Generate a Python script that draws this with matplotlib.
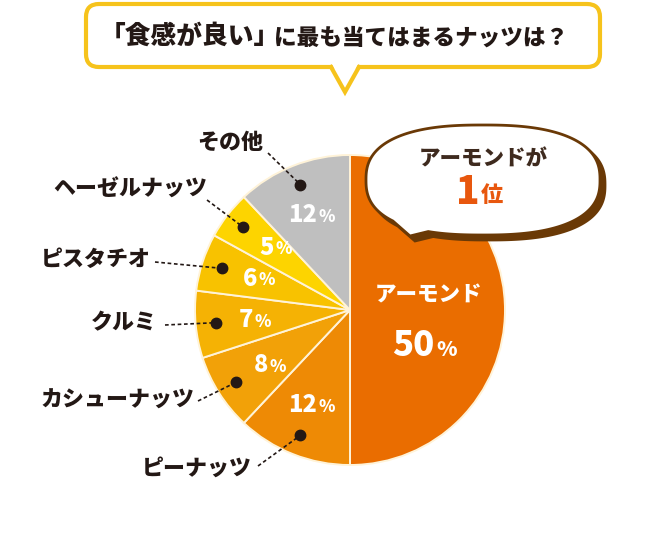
import numpy as np
import matplotlib.pyplot as plt
from matplotlib.patches import FancyBboxPatch, Polygon

plt.rcParams['font.family'] = ['Noto Sans CJK JP', 'DejaVu Sans']

# データ
nuts = ["アーモンド", "ピーナッツ", "カシューナッツ", "クルミ", "ピスタチオ", "ヘーゼルナッツ", "その他"]
shares = [50, 12, 8, 7, 6, 5, 12]
colors = ["#EA6D00", "#EE8A05", "#F2A108", "#F5B204", "#F8C200", "#FDD400", "#BFBFBF"]
title_main = "「食感が良い」"
title_rest = "に最も当てはまるナッツは？"
bubble_line1 = "アーモンドが"
bubble_rank = "1"
bubble_rank_suffix = "位"

W, H = 670, 545
cx, cy, R = 350, 310, 155
dark = "#231815"
heavy = "black"

fig = plt.figure(figsize=(W / 100, H / 100), dpi=100)
ax = fig.add_axes([0, 0, 1, 1])

# 円グラフ（y軸反転なので startangle=-90, counterclock=True で上から時計回り）
ax.pie(shares, colors=colors, startangle=-90, counterclock=True,
       center=(cx, cy), radius=R,
       wedgeprops=dict(edgecolor="#FFF3D8", linewidth=1.4))
ax.set_xlim(0, W)
ax.set_ylim(H, 0)
ax.set_aspect("auto")
ax.axis("off")


def polar(frac_deg, r):
    a = np.deg2rad(frac_deg)
    return cx + r * np.sin(a), cy - r * np.cos(a)


def pct_text(x, y, num, size, small):
    ax.text(x + 5, y, str(num), ha="right", va="center", fontsize=size,
            fontweight=heavy, color="white")
    ax.text(x + 6, y + 2, "%", ha="left", va="center", fontsize=small,
            fontweight=heavy, color="white")


cum = np.cumsum([0] + shares)
mids = [(cum[i] + cum[i + 1]) / 2 / 100 * 360 for i in range(len(shares))]

# ラベル位置（テキスト右端, 引き出し線の始点）
label_xy = [None, (252, 468), (194, 400), (157, 323), (151, 259), (207, 189), (263, 142)]
line_start = [None, (258, 466), (198, 401), (165, 325), (155, 262), (207, 200), (268, 153)]

for i in range(1, len(shares)):
    px, py = polar(mids[i], R * 0.66)
    pct_text(px, py, shares[i], 17, 12)
    dx, dy = polar(mids[i], R * 0.87)
    sx, sy = line_start[i]
    ax.plot([sx, dx], [sy, dy], ls=(0, (2.2, 1.6)), color=dark, lw=1.2)
    ax.plot(dx, dy, "o", color=dark, ms=7.5)
    tx, ty = label_xy[i]
    ax.text(tx, ty, nuts[i], ha="right", va="center", fontsize=15.8,
            fontweight=heavy, color=dark)

# アーモンド
ax.text(cx + 78, cy - 15, nuts[0], ha="center", va="center", fontsize=15.5,
        fontweight=heavy, color="white")
ax.text(cx + 84, cy + 36, str(shares[0]), ha="right", va="center", fontsize=25,
        fontweight=heavy, color="white")
ax.text(cx + 86, cy + 40, "%", ha="left", va="center", fontsize=15,
        fontweight=heavy, color="white")

# タイトルの吹き出し
yellow = "#F6C31C"
box = FancyBboxPatch((86, 4), 514, 63, boxstyle="round,pad=0,rounding_size=13",
                     facecolor="white", edgecolor=yellow, linewidth=3)
ax.add_patch(box)
ax.add_patch(Polygon([(332, 64), (345, 91), (358, 64)], closed=True,
                     facecolor="white", edgecolor="none", zorder=3))
ax.plot([331, 345, 359], [67, 92, 67], color=yellow, lw=3, zorder=4,
        solid_joinstyle="miter")
ax.text(280, 36, title_main, ha="right", va="center", fontsize=18.5,
        fontweight=heavy, color=dark, zorder=5)
ax.text(274, 38, title_rest, ha="left", va="center", fontsize=16.3,
        fontweight=heavy, color=dark, zorder=5)

# 「アーモンドが1位」の吹き出し
bx, by, ba, bb = 483, 180, 117, 55
t = np.linspace(0, 2 * np.pi, 400)
ex = bx + ba * np.sign(np.cos(t)) * np.abs(np.cos(t)) ** 0.8
ey = by + bb * np.sign(np.sin(t)) * np.abs(np.sin(t)) ** 0.8
pts = []
tail_done = False
for x, y in zip(ex, ey):
    if 393 < x < 428 and y > by:
        if not tail_done:
            pts.append((410, 236))
            tail_done = True
        continue
    pts.append((x, y))
pts = np.array(pts)
brown = "#6A3906"
ax.add_patch(Polygon(pts + [5, 5], closed=True, facecolor=brown, edgecolor=brown,
                     linewidth=2, zorder=6))
ax.add_patch(Polygon(pts, closed=True, facecolor="white", edgecolor=brown,
                     linewidth=2, zorder=7))
ax.text(bx, 159, bubble_line1, ha="center", va="center", fontsize=15.5,
        fontweight=heavy, color="#3E2A1E", zorder=8)
ax.text(bx - 3, 192, bubble_rank, ha="right", va="center", fontsize=28,
        fontweight=heavy, color="#E8570E", zorder=8)
ax.text(bx - 2, 196, bubble_rank_suffix, ha="left", va="center", fontsize=16,
        fontweight=heavy, color="#E8570E", zorder=8)

fig.savefig("out.png", dpi=100)
